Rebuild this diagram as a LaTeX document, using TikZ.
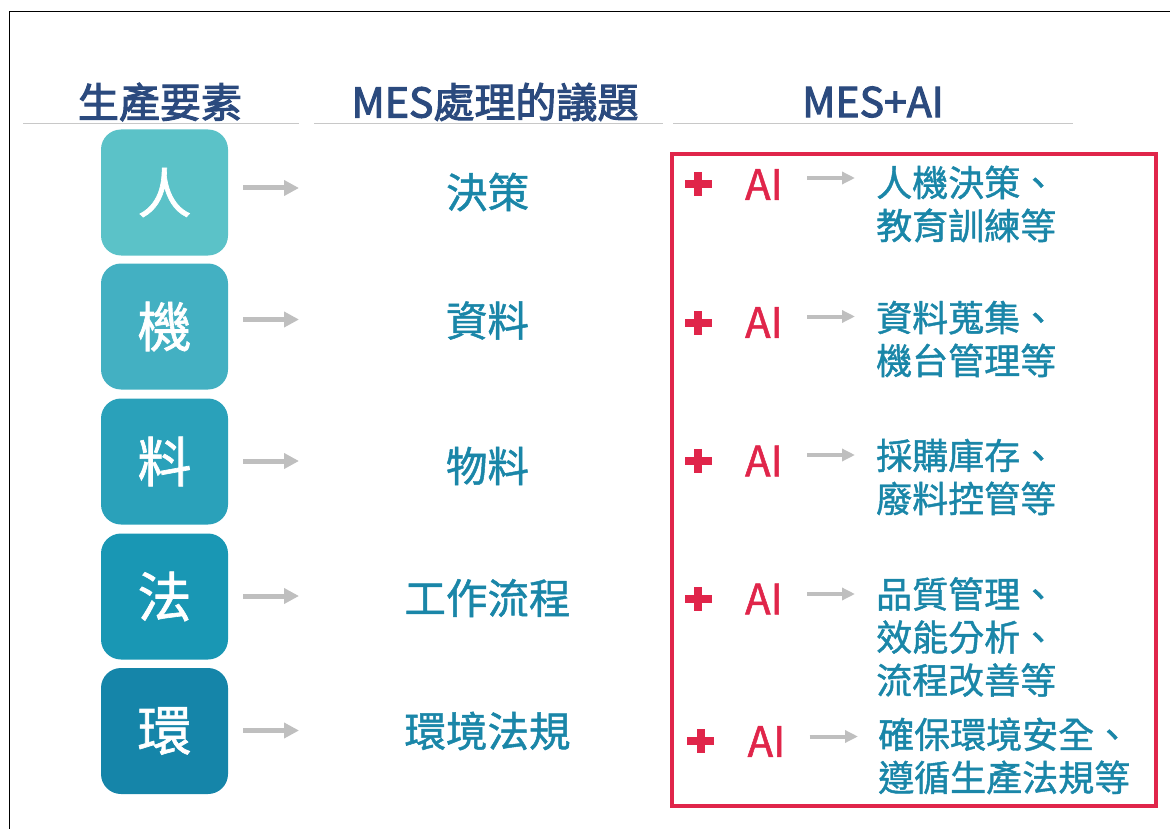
\documentclass[tikz,border=0pt]{standalone}
\usepackage{fontspec}
\setmainfont{Noto Sans CJK TC}
\newfontfamily\cjk{Noto Sans CJK TC}[FakeBold=1.2]
\newfontfamily\cjkh{Noto Sans CJK TC}[FakeBold=2.5]
\usetikzlibrary{arrows.meta}
\definecolor{hdrblue}{RGB}{43,74,126}
\definecolor{teal}{RGB}{26,134,168}
\definecolor{aired}{RGB}{224,37,74}
\definecolor{arrgray}{RGB}{191,191,191}
\definecolor{linegray}{RGB}{200,200,200}
\definecolor{cA}{RGB}{91,194,200}
\definecolor{cB}{RGB}{67,176,194}
\definecolor{cC}{RGB}{42,161,186}
\definecolor{cD}{RGB}{25,151,180}
\definecolor{cE}{RGB}{21,133,169}
\tikzset{
  hdr/.style={font=\cjkh\fontsize{41}{46}\selectfont, text=hdrblue, inner sep=0pt},
  hline/.style={draw=linegray, line width=1.5pt},
  elem/.style={minimum width=127pt, minimum height=126pt, rounded corners=20pt, inner sep=0pt,
     text=white, font=\cjk\fontsize{54}{54}\selectfont},
  garrow/.style={draw=arrgray, line width=5pt, -{Triangle[length=15pt,width=15pt]}},
  sarrow/.style={draw=arrgray, line width=4pt, -{Triangle[length=13pt,width=12pt]}},
  issue/.style={font=\cjk\fontsize{41.5}{44}\selectfont, text=teal, inner sep=0pt},
  ai/.style={font=\cjk\fontsize{42}{44}\selectfont, text=aired, inner sep=0pt},
  res/.style={font=\cjk\fontsize{36}{43}\selectfont, text=teal, inner sep=0pt, anchor=west, align=left},
  plusbar/.style={fill=aired, draw=none},
}
\begin{document}
\begin{tikzpicture}[x=1pt,y=-1pt]
\useasboundingbox (0,0) rectangle (1170,829);
% frame
\draw[line width=1.2pt] (9.5,829) -- (9.5,11.5) -- (1170,11.5);
% headers
\node[hdr] (h1) at (160,102) {生產要素};
\node[hdr] (h2) at (495,102) {MES處理的議題};
\node[hdr] (h3) at (873,102) {MES+AI};
\draw[hline] (23,123.5) -- (299,123.5);
\draw[hline] (314,123.5) -- (663,123.5);
\draw[hline] (673,123.5) -- (1073,123.5);
% element boxes
\node[elem, fill=cA] (b1) at (164.5,192.5) {人};
\node[elem, fill=cB] (b2) at (164.5,326.5) {機};
\node[elem, fill=cC] (b3) at (164.5,461.5) {料};
\node[elem, fill=cD] (b4) at (164.5,596.5) {法};
\node[elem, fill=cE] (b5) at (164.5,731) {環};
% issues
\node[issue] (t1) at (487.5,192) {決策};
\node[issue] (t2) at (487.5,320.5) {資料};
\node[issue] (t3) at (487.5,466) {物料};
\node[issue] (t4) at (487.5,598) {工作流程};
\node[issue] (t5) at (487.5,731) {環境法規};
% arrows
\coordinate (e1) at (299,188);
\coordinate (e2) at (299,319.5);
\coordinate (e3) at (299,461);
\coordinate (e4) at (299,596);
\coordinate (e5) at (299,730.5);
\foreach \i in {1,...,5}{
  \draw[garrow] ([xshift=15pt]b\i.east |- e\i) -- (e\i);
}
% red box
\node[draw=aired, line width=3.2pt, minimum width=484pt, minimum height=652pt, inner sep=0pt] (rb) at (914,480) {};
% AI rows
\newcommand{\redplus}[2]{%
  \fill[plusbar] (#1-13.5,#2-4) rectangle (#1+13.5,#2+4);
  \fill[plusbar] (#1-4,#2-12) rectangle (#1+4,#2+12);}
\redplus{698}{184}
\redplus{698}{322.5}
\redplus{698}{461}
\redplus{698}{599}
\redplus{700.5}{741}
\node[ai] (ai1) at (764,184.5) {AI};
\node[ai] (ai2) at (764,322.5) {AI};
\node[ai] (ai3) at (764,461) {AI};
\node[ai] (ai4) at (764,599) {AI};
\node[ai] (ai5) at (766.5,741.5) {AI};
\coordinate (f1) at (855,178);
\coordinate (f2) at (855,316.5);
\coordinate (f3) at (855,455);
\coordinate (f4) at (855,594);
\coordinate (f5) at (858,736.5);
\foreach \i in {1,...,5}{
  \draw[sarrow] ([xshift=24pt]ai\i.east |- f\i) -- (f\i);
}
\node[res] (r1) at (876,204) {人機決策、\\教育訓練等};
\node[res] (r2) at (876,339) {資料蒐集、\\機台管理等};
\node[res] (r3) at (876,477) {採購庫存、\\廢料控管等};
\node[res] (r4) at (876,637) {品質管理、\\效能分析、\\流程改善等};
\node[res] (r5) at (878,756) {確保環境安全、\\遵循生產法規等};
\end{tikzpicture}
\end{document}
